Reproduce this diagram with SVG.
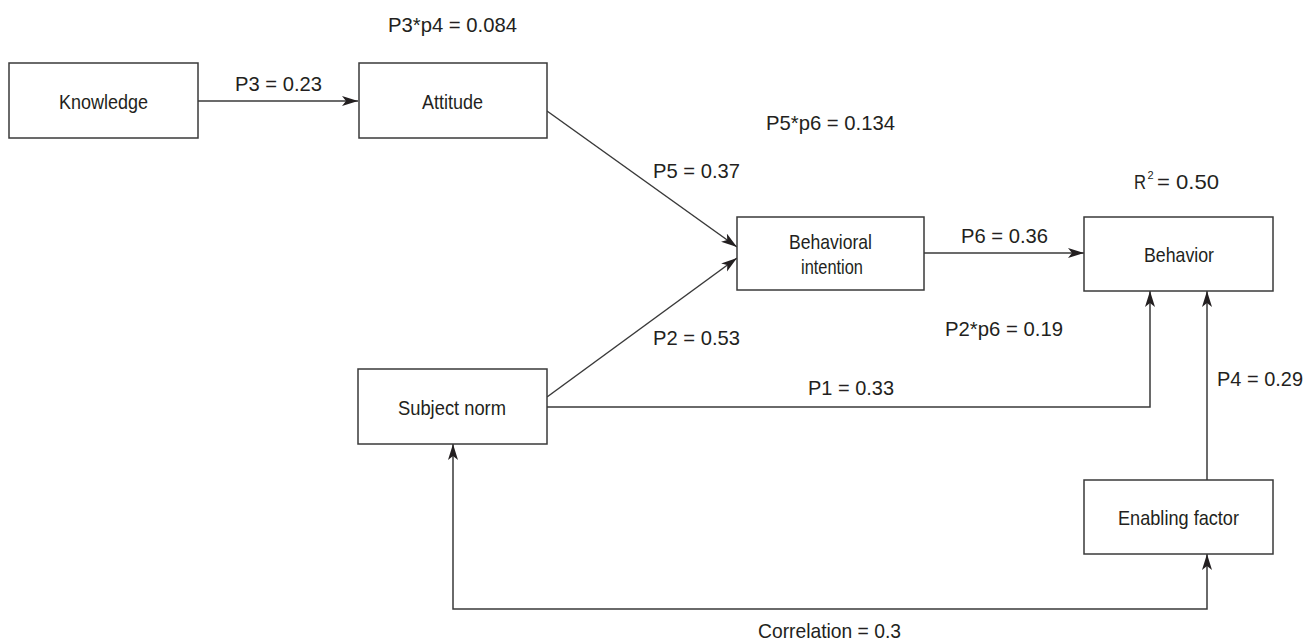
<svg xmlns="http://www.w3.org/2000/svg" width="1316" height="641" viewBox="0 0 1316 641">
<style>
.box{fill:#fff;stroke:#3a3a3a;stroke-width:1.5}
.t{font-family:"Liberation Sans",Arial,sans-serif;font-size:21px;fill:#231f20}
.sup{font-size:11px}
.c{fill:none;stroke:#3a3a3a;stroke-width:1.5}
</style>
<defs>
<marker id="ah" markerUnits="userSpaceOnUse" markerWidth="17" markerHeight="11" refX="16" refY="5" orient="auto-start-reverse" viewBox="0 0 17 11">
<path d="M0,0 L16,5 L0,10 L4,5 z" fill="#231f20"/>
</marker>
</defs>
<rect width="1316" height="641" fill="#fff"/>
<g id="connectors">
<line class="c" x1="198" y1="101" x2="358" y2="101" marker-end="url(#ah)"/>
<line class="c" x1="547" y1="111" x2="737" y2="247" marker-end="url(#ah)"/>
<line class="c" x1="547" y1="397" x2="737" y2="258" marker-end="url(#ah)"/>
<line class="c" x1="924" y1="253" x2="1084" y2="253" marker-end="url(#ah)"/>
<polyline class="c" points="547,407 1150,407 1150,291" marker-end="url(#ah)"/>
<line class="c" x1="1207" y1="480" x2="1207" y2="291" marker-end="url(#ah)"/>
<polyline class="c" points="453,444 453,609 1207,609 1207,554" marker-start="url(#ah)" marker-end="url(#ah)"/>
</g>
<g id="knowledge">
<rect class="box" x="9" y="63" width="189" height="75"/>
<text class="t" x="59" y="109" textLength="89" lengthAdjust="spacingAndGlyphs">Knowledge</text>
</g>
<g id="attitude">
<rect class="box" x="359" y="63" width="188" height="75"/>
<text class="t" x="422" y="109" textLength="61" lengthAdjust="spacingAndGlyphs">Attitude</text>
</g>
<g id="behavioral-intention">
<rect class="box" x="737" y="217" width="187" height="73"/>
<text class="t" x="789" y="249" textLength="83" lengthAdjust="spacingAndGlyphs">Behavioral</text>
<text class="t" x="801" y="274" textLength="62" lengthAdjust="spacingAndGlyphs">intention</text>
</g>
<g id="behavior">
<rect class="box" x="1084" y="217" width="189" height="74"/>
<text class="t" x="1144" y="262" textLength="70" lengthAdjust="spacingAndGlyphs">Behavior</text>
</g>
<g id="subject-norm">
<rect class="box" x="358" y="369" width="189" height="75"/>
<text class="t" x="398" y="415" textLength="108" lengthAdjust="spacingAndGlyphs">Subject norm</text>
</g>
<g id="enabling-factor">
<rect class="box" x="1084" y="480" width="189" height="74"/>
<text class="t" x="1118" y="525" textLength="121" lengthAdjust="spacingAndGlyphs">Enabling factor</text>
</g>
<g id="labels">
<text class="t" x="388" y="32" textLength="129" lengthAdjust="spacingAndGlyphs">P3*p4 = 0.084</text>
<text class="t" x="235" y="91" textLength="87" lengthAdjust="spacingAndGlyphs">P3 = 0.23</text>
<text class="t" x="766" y="130" textLength="129" lengthAdjust="spacingAndGlyphs">P5*p6 = 0.134</text>
<text class="t" x="653" y="178" textLength="87" lengthAdjust="spacingAndGlyphs">P5 = 0.37</text>
<text class="t" x="961" y="243" textLength="87" lengthAdjust="spacingAndGlyphs">P6 = 0.36</text>
<text class="t" x="1134" y="189" textLength="12" lengthAdjust="spacingAndGlyphs">R</text>
<text class="t sup" x="1147.5" y="179">2</text>
<text class="t" x="1157" y="189" textLength="62" lengthAdjust="spacingAndGlyphs">= 0.50</text>
<text class="t" x="945" y="336" textLength="118" lengthAdjust="spacingAndGlyphs">P2*p6 = 0.19</text>
<text class="t" x="653" y="345" textLength="87" lengthAdjust="spacingAndGlyphs">P2 = 0.53</text>
<text class="t" x="808" y="395" textLength="86" lengthAdjust="spacingAndGlyphs">P1 = 0.33</text>
<text class="t" x="1217" y="386" textLength="86" lengthAdjust="spacingAndGlyphs">P4 = 0.29</text>
<text class="t" x="758" y="638" textLength="143" lengthAdjust="spacingAndGlyphs">Correlation = 0.3</text>
</g>
</svg>
